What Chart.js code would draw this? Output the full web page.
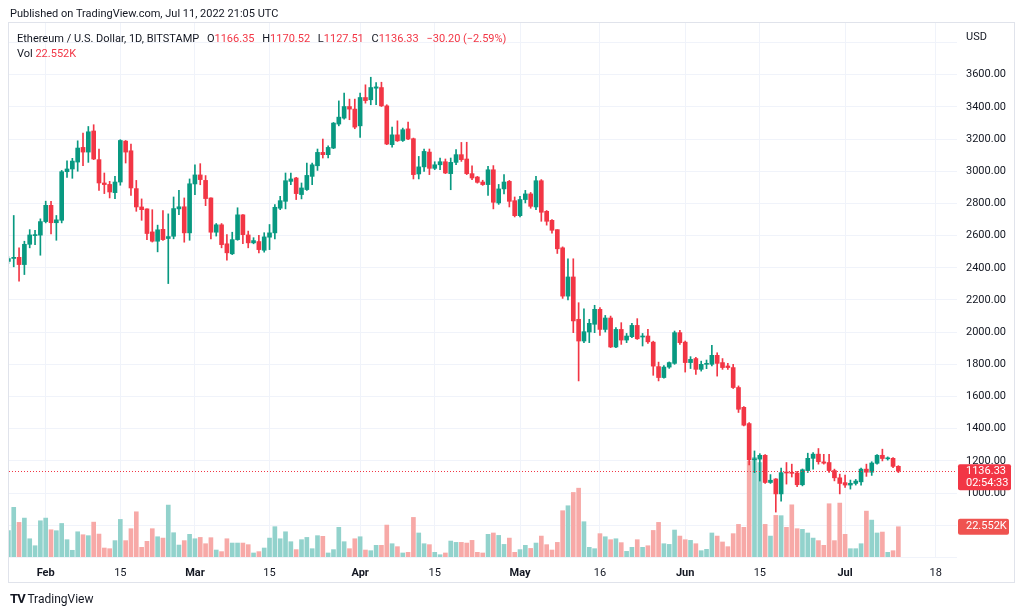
<!DOCTYPE html>
<html>
<head>
<meta charset="utf-8">
<script src="https://cdn.jsdelivr.net/npm/chart.js@4"></script>
<style>
  body { margin: 0; background: #fff; }
  #wrap { position: relative; width: 1024px; height: 614px; font-family: Roboto, 'Liberation Sans', sans-serif; color: #131722; }
  #chart { position: absolute; left: 0; top: 0; }
  .txt { position: absolute; white-space: nowrap; }
  .red { color: #f23645; }
  .lg span { margin-right: 5px; }
</style>
</head>
<body>
<div id="wrap">
  <canvas id="chart" width="1024" height="614"></canvas>
  <div class="txt" style="left:10px;top:7px;font-size:11px">Published on TradingView.com, Jul 11, 2022 21:05 UTC</div>
  <div class="txt lg" style="left:17px;top:32px;font-size:11px">
    <span>Ethereum / U.S. Dollar, 1D, BITSTAMP</span>
    <span>O<b class="red" style="font-weight:normal">1166.35</b></span>
    <span>H<b class="red" style="font-weight:normal">1170.52</b></span>
    <span>L<b class="red" style="font-weight:normal">1127.51</b></span>
    <span>C<b class="red" style="font-weight:normal">1136.33</b></span>
    <span class="red">−30.20 (−2.59%)</span>
  </div>
  <div class="txt" style="left:17px;top:47px;font-size:11px">Vol <span class="red">22.552K</span></div>
  <div class="txt" style="left:966px;top:30px;font-size:11px">USD</div>
  <div class="txt" style="left:10px;top:591px;font-size:12px"><b style="font-size:13px;letter-spacing:-1px">TV</b> TradingView</div>
</div>
<script>
// daily candles, Jan 25 -> Jul 11 2022 (day index relative to Feb 1)
const firstDay = -7;
const opens = [2440,2458,2465,2420,2546,2600,2603,
  2687,2788,2680,2695,2997,3014,3057,3148,3119,3250,3072,2927,2918,2867,2933,3187,3127,2892,2778,2766,2623,2565,2639,2582,2596,2766,2779,2617,
  2921,2977,2943,2834,2621,2667,2549,2487,2575,2729,2604,2555,2563,2509,2590,2617,2770,2813,2937,2958,2855,2886,2968,3034,3117,3103,3144,3293,3330,3402,3386,
  3282,3458,3444,3516,3520,3406,3165,3226,3191,3263,3202,2983,3027,3119,3018,3040,3059,2985,3055,3103,3076,2985,2964,2933,2917,3009,2803,2890,2937,2817,
  2724,2824,2859,2778,2941,2751,2695,2637,2524,2224,2343,2080,1945,2001,2049,2142,2017,2088,1908,2017,1951,1972,2042,1970,1976,1938,1786,1718,1783,1806,1997,
  1938,1811,1836,1769,1800,1800,1856,1811,1790,1780,1656,1533,1432,1207,1211,1235,1066,1088,995,1127,1127,1125,1052,1140,1216,1242,1194,1190,1140,1095,
  1065,1050,1060,1070,1149,1130,1185,1235,1213,1216,1166.35];
const highs = [2470,2725,2524,2565,2637,2633,2704,
  2814,2813,2725,3005,3065,3080,3189,3237,3278,3289,3138,2989,2937,2968,3196,3191,3169,2943,2828,2766,2761,2665,2756,2735,2840,2881,2834,2952,
  3040,3047,2973,2834,2675,2675,2606,2621,2773,2730,2628,2587,2601,2618,2669,2793,2844,2989,2989,2962,2927,3051,3051,3138,3200,3158,3303,3437,3485,3448,3448,
  3485,3537,3584,3551,3553,3413,3274,3313,3268,3306,3206,3092,3138,3138,3059,3082,3076,3082,3134,3179,3180,3034,2968,2944,3030,3035,2918,2979,2943,2840,
  2844,2881,2868,2968,2948,2756,2700,2637,2530,2456,2456,2183,2145,2080,2167,2152,2104,2100,2028,2059,1992,2055,2084,1992,2017,1944,1814,1792,1815,2007,2011,
  1945,1848,1843,1820,1827,1918,1872,1836,1806,1800,1666,1538,1438,1262,1245,1240,1115,1090,1155,1190,1180,1135,1150,1248,1252,1277,1241,1241,1149,1118,
  1112,1081,1085,1155,1180,1195,1240,1273,1225,1220,1170.52];
const lows = [2425,2406,2317,2358,2524,2544,2478,
  2679,2611,2571,2679,2962,2956,3000,3034,3055,3072,2881,2861,2834,2830,2913,3051,2850,2751,2695,2575,2560,2499,2570,2302,2580,2730,2559,2571,
  2855,2916,2786,2580,2597,2524,2447,2482,2571,2550,2524,2549,2493,2497,2513,2580,2761,2766,2917,2824,2828,2881,2917,3005,3082,3082,3140,3282,3324,3320,3264,
  3210,3423,3413,3413,3402,3165,3150,3185,3185,3196,2952,2952,2999,2979,3010,3010,2985,2885,3040,3061,2979,2948,2926,2912,2850,2766,2794,2859,2778,2716,
  2716,2803,2770,2761,2689,2665,2615,2489,2210,2200,1997,1697,1935,1935,1997,1980,2001,1904,1904,1924,1935,1966,1955,1914,1930,1732,1697,1714,1775,1800,1924,
  1752,1774,1738,1758,1773,1790,1727,1769,1769,1650,1501,1418,1175,1127,1075,1060,1060,882,950,1056,1100,1040,1045,1128,1149,1180,1180,1128,1076,995,
  1035,1025,1050,1050,1104,1110,1180,1200,1205,1158,1127.51];
const closes = [2458,2465,2420,2546,2604,2603,2687,
  2788,2680,2698,2997,3014,3063,3144,3119,3245,3076,2927,2917,2871,2933,3191,3119,2896,2778,2761,2613,2565,2636,2575,2594,2768,2779,2617,2922,
  2977,2948,2830,2621,2667,2544,2493,2575,2729,2606,2555,2569,2513,2592,2617,2776,2817,2941,2952,2861,2896,2974,3040,3117,3103,3148,3299,3336,3402,3386,3274,
  3458,3439,3520,3524,3406,3169,3226,3189,3258,3200,2979,3027,3123,3018,3040,3059,2989,3055,3103,3072,2985,2958,2931,2917,3009,2807,2890,2933,2813,2724,
  2824,2859,2782,2941,2745,2689,2633,2518,2224,2343,2070,1945,2003,2055,2142,2017,2088,1908,2017,1951,1976,2042,1959,1976,1940,1789,1718,1783,1811,1997,1935,
  1811,1831,1769,1800,1806,1856,1806,1780,1780,1656,1521,1422,1207,1211,1235,1066,1080,995,1127,1125,1123,1052,1145,1216,1242,1195,1186,1140,1095,1060,
  1050,1061,1075,1149,1130,1187,1235,1215,1216,1166,1136.33];
// volume, thousands of ETH
const volumes = [19.6,37,25.8,29,13.6,8.4,27,
  29,20.3,19.6,25,12.9,5,18.8,16.6,15.9,26,17.1,6.7,6.2,12.2,28,12.2,21.1,33.7,7.2,11.7,21.1,15.1,14.1,38.7,18.1,8.9,12.2,16.9,
  13.6,14.6,9.9,14.4,5.2,4,13.6,10.4,10.4,10.4,9.2,3,4,6.7,14.1,22.6,13.6,18.8,11.4,5.5,12.9,14.6,6.2,15.9,15.4,3,5.5,22.1,11.4,6.2,13.6,
  15.1,5.2,4.7,8.7,8.7,23.8,9.9,7.7,3,3.5,29.5,17.9,9.9,9.2,3.5,1.7,3,11.9,10.9,10.9,10.4,12.4,3.5,3,16.9,17.9,16.1,9.4,14.1,3.5,
  5.5,8.7,6.4,10.4,15.6,9.2,5.2,10.9,34.5,38.2,48.1,51.3,26.3,7.2,6.2,17.4,15.1,12.9,13.6,10.7,4.2,7.2,12.9,7.2,8.4,19.8,25.8,9.9,9.4,20.1,15.6,
  12.9,12.4,9.9,4.7,5.7,17.9,15.6,11.2,7.7,17.4,24.3,22.1,71.4,74.2,70.4,24.3,15.6,31,30.8,22.1,38.9,21.1,20.6,17.9,14.1,12.2,8.7,39.7,12.2,40.2,
  16.9,6.2,6.2,9.9,34.2,27.5,17.9,18.6,3.5,4.7,22.552];

const tickDays = [0, 14, 28, 42, 59, 73, 89, 104, 120, 134, 150, 167];
const tickLabels = ['Feb', '15', 'Mar', '15', 'Apr', '15', 'May', '16', 'Jun', '15', 'Jul', '18'];
const priceTicks = [600, 800, 1000, 1200, 1400, 1600, 1800, 2000, 2200, 2400, 2600, 2800, 3000, 3200, 3400, 3600, 3800];
const lastPrice = 1136.33;

const UP = '#089981', DOWN = '#f23645';
const VUP = '#92d2cc', VDOWN = '#f7a9a7';
const isUp = closes.map((c, i) => c >= opens[i]);
const day = i => firstDay + i;

const wickData = highs.map((h, i) => ({ x: day(i), y: [lows[i], h] }));
const bodyData = opens.map((o, i) => ({ x: day(i), y: [Math.min(o, closes[i]), Math.max(o, closes[i])] }));
const volData = volumes.map((v, i) => ({ x: day(i), y: v }));

const overlay = {
  id: 'overlay',
  beforeDraw(chart) {
    const c = chart.ctx;
    c.save();
    c.strokeStyle = '#e0e3eb';
    c.lineWidth = 1;
    c.strokeRect(8.5, 22.5, 1006, 560);
    c.restore();
  },
  afterDatasetsDraw(chart) {
    const c = chart.ctx, a = chart.chartArea;
    const y = Math.round(chart.scales.y.getPixelForValue(lastPrice)) + 0.5;
    c.save();
    c.strokeStyle = DOWN;
    c.lineWidth = 1;
    c.setLineDash([1, 2]);
    c.beginPath(); c.moveTo(a.left, y); c.lineTo(a.right, y); c.stroke();
    c.restore();
  },
  afterDraw(chart) {
    const c = chart.ctx, a = chart.chartArea;
    const y = chart.scales.y.getPixelForValue(lastPrice);
    c.save();
    c.fillStyle = DOWN;
    c.beginPath(); c.roundRect(a.right + 1, y - 7, 53, 26, 2); c.fill();
    c.fillStyle = '#fff';
    c.font = '11px Roboto';
    c.textBaseline = 'middle';
    c.fillText('1136.33', a.right + 9, y);
    c.fillText('02:54:33', a.right + 9, y + 12);
    const yv = chart.scales.v.getPixelForValue(volumes[volumes.length - 1]);
    c.fillStyle = '#ef5350';
    c.beginPath(); c.roundRect(a.right + 1, yv - 8, 51, 16, 2); c.fill();
    c.fillStyle = '#fff';
    c.fillText('22.552K', a.right + 9, yv);
    c.restore();
  }
};

new Chart(document.getElementById('chart'), {
  type: 'bar',
  data: {
    datasets: [
      { data: bodyData, yAxisID: 'y', grouped: false, barThickness: 4, minBarLength: 1, order: 1,
        backgroundColor: isUp.map(u => u ? UP : DOWN) },
      { data: wickData, yAxisID: 'y', grouped: false, barThickness: 1, order: 2,
        backgroundColor: isUp.map(u => u ? UP : DOWN) },
      { data: volData, yAxisID: 'v', grouped: false, barThickness: 4, order: 3,
        backgroundColor: isUp.map(u => u ? VUP : VDOWN) }
    ]
  },
  options: {
    responsive: false,
    animation: false,
    layout: { padding: { left: 9, top: 23, right: 10, bottom: 32 } },
    plugins: { legend: { display: false }, tooltip: { enabled: false } },
    scales: {
      x: {
        type: 'linear', min: -6.887, max: 171, offset: false,
        border: { display: false },
        grid: { color: '#f0f3fa', drawTicks: false, offset: false },
        afterBuildTicks: s => { s.ticks = tickDays.map(v => ({ value: v })); },
        afterFit: s => { s.height = 25; },
        ticks: {
          autoSkip: false, maxRotation: 0, padding: 10, color: '#131722',
          font: ctx => ({ family: 'Roboto', size: 11, weight: isNaN(+tickLabels[ctx.index]) ? 'bold' : 'normal' }),
          callback: (v, i) => tickLabels[i]
        }
      },
      y: {
        position: 'right', min: 603, max: 3921,
        border: { display: false },
        grid: { color: '#f0f3fa', drawTicks: false },
        afterBuildTicks: s => { s.ticks = priceTicks.map(v => ({ value: v })); },
        afterFit: s => { s.width = 57; },
        ticks: {
          padding: 9, color: '#131722', font: { family: 'Roboto', size: 11 },
          callback: v => (v >= 1000 && v <= 3600) ? v.toFixed(2) : ''
        }
      },
      v: { display: false, min: 0, max: 398 }
    }
  },
  plugins: [overlay]
});
</script>
</body>
</html>
